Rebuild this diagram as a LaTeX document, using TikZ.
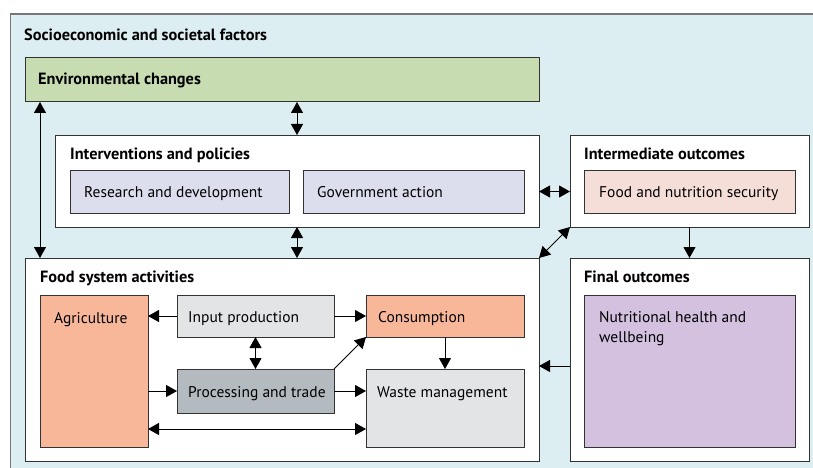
\documentclass[tikz,border=0pt]{standalone}
\usepackage{fontspec}
\setmainfont{PT Sans}
\usetikzlibrary{arrows.meta}
\definecolor{bgblue}{HTML}{DDEEF3}
\definecolor{envgreen}{HTML}{C7DDB1}
\definecolor{lav}{HTML}{DCDEEE}
\definecolor{pinkish}{HTML}{F5DDD8}
\definecolor{salmon}{HTML}{F8B799}
\definecolor{lgray}{HTML}{E3E4E6}
\definecolor{mgray}{HTML}{B3BBC0}
\definecolor{purp}{HTML}{D3C1DF}
\definecolor{edgec}{HTML}{333333}
\definecolor{outer}{HTML}{777777}
\begin{document}
\begin{tikzpicture}[x=1pt,y=-1pt,
  box/.style={draw=edgec, line width=1pt, inner sep=0pt, outer sep=0pt, anchor=north west},
  ttl/.style={anchor=base west, font=\fontsize{16.3}{19}\selectfont\bfseries, inner sep=0pt},
  lbl/.style={anchor=base west, font=\fontsize{15.5}{18}\selectfont, inner sep=0pt},
  arr/.style={line width=0.9pt, -{Triangle[length=11pt,width=12pt]}},
  darr/.style={line width=0.9pt, {Triangle[length=11pt,width=12pt]}-{Triangle[length=11pt,width=12pt]}}]
\useasboundingbox (0,0) rectangle (813,468);
\clip (0,0) rectangle (813,468);
% outer background
\fill[white] (0,0) rectangle (813,468);
\draw[draw=outer, fill=bgblue, line width=1.2pt] (10.5,14) rectangle (830,480);
\node[ttl] (socio) at (24,41) {Socioeconomic and societal factors};
% environmental changes
\node[box, fill=envgreen, minimum width=514pt, minimum height=44pt] (env) at (25,58) {};
\node[ttl] (envt) at (38,85) {Environmental changes};
% interventions
\node[box, fill=white, minimum width=484pt, minimum height=92pt] (intv) at (55,135) {};
\node[ttl] (intvt) at (70,159) {Interventions and policies};
\node[box, fill=lav, minimum width=219pt, minimum height=43pt] (rd) at (70,170) {};
\node[lbl] (rdt) at (84,197) {Research and development};
\node[box, fill=lav, minimum width=221pt, minimum height=43pt] (gov) at (303,170) {};
\node[lbl] (govt) at (317,197) {Government action};
% intermediate outcomes
\node[box, fill=white, minimum width=239pt, minimum height=92pt] (inter) at (570,135) {};
\node[ttl] (intert) at (584,159) {Intermediate outcomes};
\node[box, fill=pinkish, minimum width=211pt, minimum height=43pt] (fns) at (584,170) {};
\node[lbl] (fnst) at (599,197) {Food and nutrition security};
% food system activities
\node[box, fill=white, minimum width=514pt, minimum height=203pt] (food) at (25,258) {};
\node[ttl] (foodt) at (40,282) {Food system activities};
\node[box, fill=salmon, minimum width=108pt, minimum height=152pt] (agri) at (40,295) {};
\node[lbl] (agrit) at (54,323) {Agriculture};
\node[box, fill=lgray, minimum width=157pt, minimum height=42pt] (inp) at (177,295) {};
\node[lbl] (inpt) at (188,322) {Input production};
\node[box, fill=salmon, minimum width=158pt, minimum height=42pt] (cons) at (366,295) {};
\node[lbl] (const) at (378,322) {Consumption};
\node[box, fill=mgray, minimum width=157pt, minimum height=44pt] (proc) at (177,369) {};
\node[lbl] (proct) at (188,397) {Processing and trade};
\node[box, fill=lgray, minimum width=158pt, minimum height=78pt] (waste) at (366,369) {};
\node[lbl] (wastet) at (377,397) {Waste management};
% final outcomes
\node[box, fill=white, minimum width=239pt, minimum height=203pt] (final) at (570,258) {};
\node[ttl] (finalt) at (584,282) {Final outcomes};
\node[box, fill=purp, minimum width=211pt, minimum height=152pt] (nut) at (584,295) {};
\node[lbl] (nutt1) at (599,322) {Nutritional health and};
\node[lbl] (nutt2) at (599,342) {wellbeing};
% helper coordinates
\coordinate (aw) at (250,429);
\coordinate (fa) at (0,366);
% connectors
\draw[darr] (intv.north |- env.south) -- (intv.north);
\draw[darr] (intv.south) -- (intv.south |- food.north);
\draw[darr] (agri.west |- env.south) -- (agri.west |- food.north);
\draw[darr] (intv.east |- gov.east) -- (inter.west |- gov.east);
\draw[arr] (inter.south) -- (final.north);
\draw[darr] (food.north east) -- (inter.south west);
\draw[arr] (final.west |- fa) -- (food.east |- fa);
\draw[arr] (inp.west) -- (inp.west -| agri.east);
\draw[arr] (inp.east) -- (cons.west);
\draw[darr] (inp.south) -- (proc.north);
\draw[arr] (proc.north east) -- (cons.south west);
\draw[arr] (proc.west -| agri.east) -- (proc.west);
\draw[arr] (proc.east) -- (proc.east -| waste.west);
\draw[darr] (agri.east |- aw) -- (waste.west |- aw);
\draw[arr] (cons.south) -- (waste.north);
\end{tikzpicture}
\end{document}
